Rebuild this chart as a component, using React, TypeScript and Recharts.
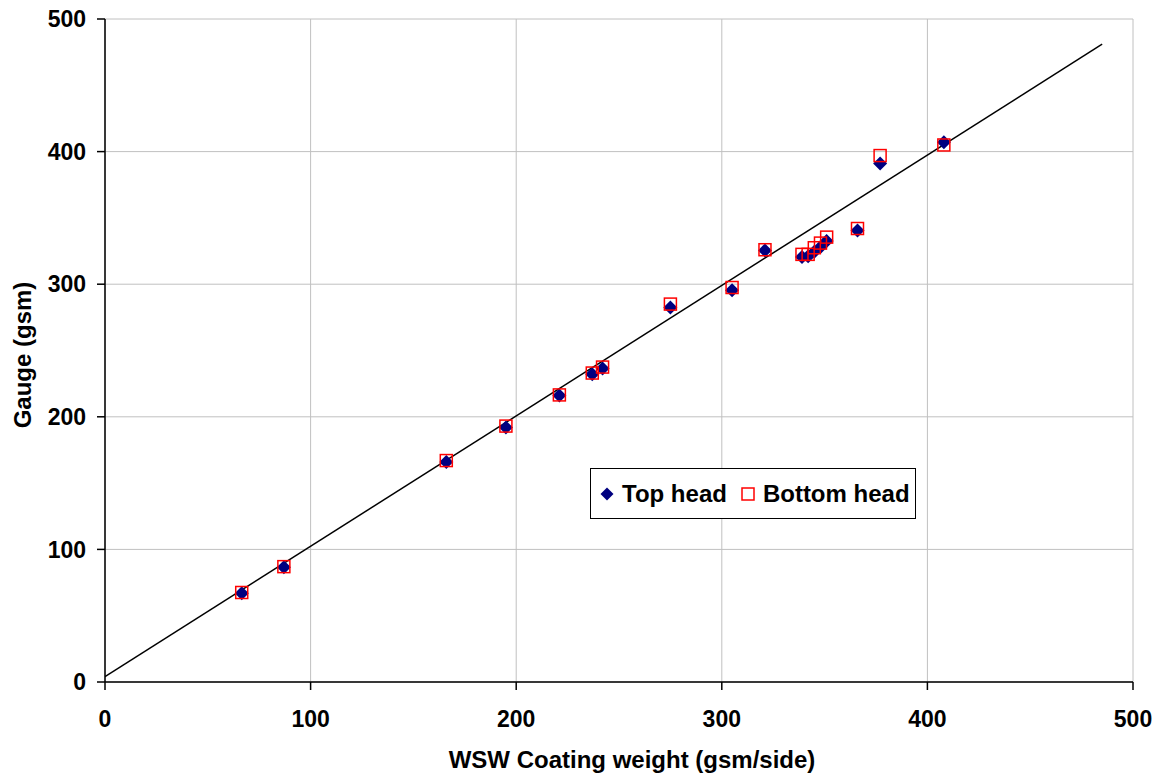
import React from "react";
import {
  ScatterChart,
  Scatter,
  XAxis,
  YAxis,
  CartesianGrid,
  Legend,
  Label,
} from "recharts";

// WSW coating weight (gsm/side) for each sample
const coatingWeight = [66.5, 87, 166, 195, 221, 237, 242, 275, 305, 321, 339, 342, 345, 348, 351, 366, 377, 408];

// gauge readings (gsm)
const topHead = [67, 86.5, 166, 192, 216, 232, 236.5, 282.5, 295.5, 325.5, 320.5, 321, 324.5, 328, 332.5, 340.5, 391, 407];
const bottomHead = [67.5, 87, 167, 193, 216.5, 233, 237.5, 285, 297.5, 326, 322.5, 322.5, 327.5, 331, 335.5, 342, 397, 405];

// trend line ends
const fitX = [0, 485];
const fitY = [4, 481];

const axisTicks = [0, 100, 200, 300, 400, 500];

const FONT = "'Liberation Sans', Arial, sans-serif";

const topData = coatingWeight.map((x, i) => ({ x, y: topHead[i] }));
const bottomData = coatingWeight.map((x, i) => ({ x, y: bottomHead[i] }));
const fitData = fitX.map((x, i) => ({ x, y: fitY[i] }));

const Diamond = (props: any) => {
  const { cx, cy } = props;
  const r = 7;
  return (
    <polygon
      points={`${cx},${cy - r} ${cx + r},${cy} ${cx},${cy + r} ${cx - r},${cy}`}
      fill="#000080"
    />
  );
};

const Square = (props: any) => {
  const { cx, cy } = props;
  return <rect x={cx - 6} y={cy - 6} width={12} height={12} fill="none" stroke="#ff0000" strokeWidth={1.5} />;
};

const NoMarker = () => <g />;

const LegendBox = () => (
  <div
    style={{
      width: 324,
      height: 49,
      border: "1px solid #000",
      background: "#fff",
      display: "flex",
      alignItems: "center",
      fontFamily: FONT,
      fontWeight: "bold",
      fontSize: 24,
      color: "#000",
      boxSizing: "content-box",
      whiteSpace: "nowrap",
    }}
  >
    <svg width={14} height={14} style={{ marginLeft: 9, marginRight: 8 }}>
      <polygon points="7,0.5 13.5,7 7,13.5 0.5,7" fill="#000080" />
    </svg>
    <span>Top head</span>
    <svg width={14} height={14} style={{ marginLeft: 14, marginRight: 8 }}>
      <rect x={1} y={1} width={12} height={12} fill="none" stroke="#ff0000" strokeWidth={1.5} />
    </svg>
    <span>Bottom head</span>
  </div>
);

export default function App() {
  return (
    <div style={{ position: "absolute", left: 0, top: 0, background: "#fff" }}>
      <ScatterChart
        width={1163}
        height={780}
        margin={{ top: 19, right: 30, bottom: 8, left: 15 }}
      >
        <CartesianGrid stroke="#c0c0c0" strokeWidth={1} />
        <XAxis
          type="number"
          dataKey="x"
          domain={[0, 500]}
          ticks={axisTicks}
          allowDataOverflow
          height={90}
          stroke="#000"
          strokeWidth={1.5}
          tickSize={8}
          tickMargin={21}
          tick={{ fill: "#000", fontSize: 23, fontWeight: "bold", fontFamily: FONT }}
        >
          <Label
            content={() => (
              <text
                x={632}
                y={768}
                textAnchor="middle"
                fill="#000"
                fontSize={24}
                fontWeight="bold"
                fontFamily={FONT}
              >
                WSW Coating weight (gsm/side)
              </text>
            )}
          />
        </XAxis>
        <YAxis
          type="number"
          dataKey="y"
          domain={[0, 500]}
          ticks={axisTicks}
          allowDataOverflow
          width={90}
          stroke="#000"
          strokeWidth={1.5}
          tickSize={8}
          tickMargin={11}
          tick={{ fill: "#000", fontSize: 23, fontWeight: "bold", fontFamily: FONT }}
        >
          <Label
            content={() => (
              <text
                x={22}
                y={355}
                transform="rotate(-90, 22, 355)"
                textAnchor="middle"
                dominantBaseline="central"
                fill="#000"
                fontSize={24}
                fontWeight="bold"
                fontFamily={FONT}
              >
                Gauge (gsm)
              </text>
            )}
          />
        </YAxis>
        <Legend
          layout="vertical"
          align="center"
          verticalAlign="middle"
          content={LegendBox}
          wrapperStyle={{ left: 590, top: 468, width: 326, height: 51 }}
        />
        <Scatter
          name="fit"
          data={fitData}
          line={{ stroke: "#000", strokeWidth: 1.5 }}
          lineType="joint"
          shape={NoMarker}
          legendType="none"
          isAnimationActive={false}
        />
        <Scatter name="Top head" data={topData} shape={Diamond} isAnimationActive={false} />
        <Scatter name="Bottom head" data={bottomData} shape={Square} isAnimationActive={false} />
      </ScatterChart>
    </div>
  );
}
